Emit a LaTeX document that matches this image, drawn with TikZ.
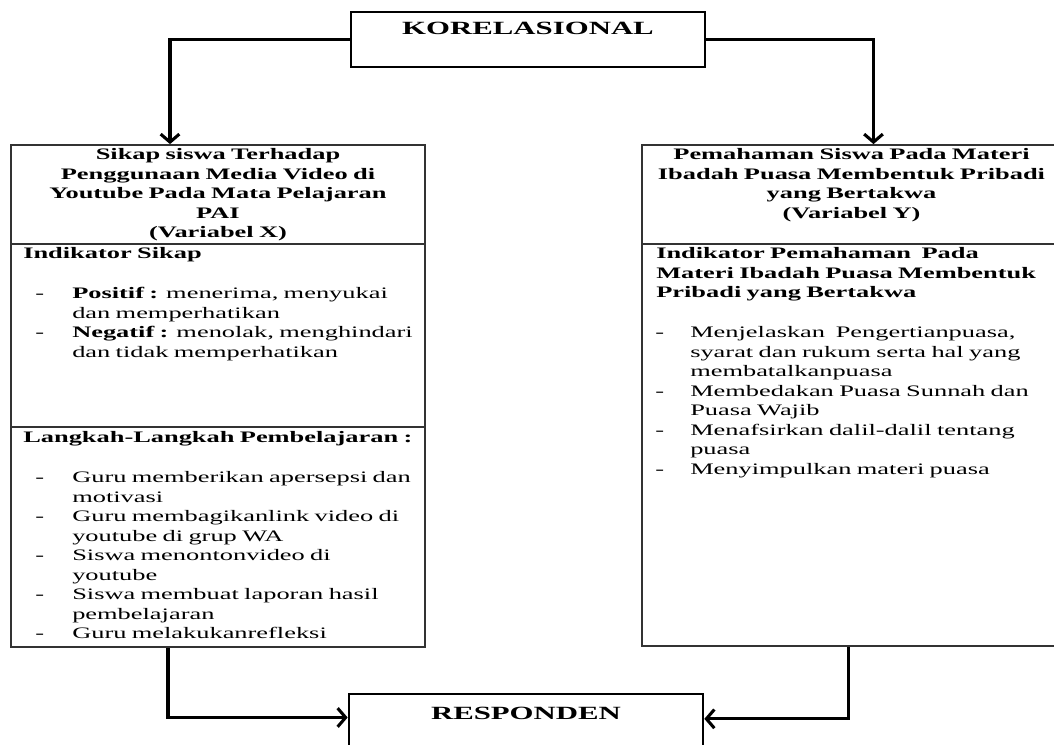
\documentclass[tikz,border=0pt]{standalone}
\usepackage{fontspec}
\setmainfont[FakeStretch=1.65]{Liberation Serif}
\usepackage{xcolor}
\usepackage{tikz}
\usetikzlibrary{positioning, arrows.meta, calc}
\definecolor{garis}{HTML}{333333}
\newcommand{\strip}[1][27.75pt]{\makebox[#1][l]{-}}
\newcommand{\lanjut}[1][27.75pt]{\hspace*{#1}}

\begin{document}
\begin{tikzpicture}[x=0.75pt, y=-0.75pt,
 font=\fontsize{12}{14.6}\selectfont,
 kotak/.style={draw=garis, line width=1.3pt, inner sep=0pt},
 judul/.style={draw=black, line width=2pt, inner sep=0pt, minimum width=265.5pt,
   font=\fontsize{14}{16}\selectfont\bfseries},
 teks/.style={inner sep=0pt, anchor=base west, align=left, text width=330pt},
 tebal/.style={font=\fontsize{12}{14.6}\selectfont\bfseries},
 kepala/.style={inner sep=0pt, anchor=base, align=center, text width=310pt, tebal},
 panah/.style={-{Straight Barb[length=6pt,width=14pt]}, line width=2.3pt}]
\useasboundingbox (0,0) rectangle (1054,745);

\node[judul, text height=17.25pt, text depth=24pt] (kor) at (528,39.5) {KORELASIONAL};
\node[judul, text height=18.75pt, text depth=22.5pt] (resp) at (526,721.5) {RESPONDEN};

\node[kotak, minimum width=310.5pt, minimum height=376.5pt] (sikap) at (218,396) {};
\node[kotak, minimum width=314.25pt, minimum height=375.75pt] (paham) at (851.5,395.5) {};
\draw[garis, line width=1.3pt] ([yshift=-75pt]sikap.north west) -- ([yshift=-75pt]sikap.north east);
\draw[garis, line width=1.3pt] ([yshift=-212.25pt]sikap.north west) -- ([yshift=-212.25pt]sikap.north east);
\draw[garis, line width=1.3pt] ([yshift=-75pt]paham.north west) -- ([yshift=-75pt]paham.north east);

% variabel X
\node[kepala] (judX) at (218,160) {Sikap siswa Terhadap\\Penggunaan Media Video di\\Youtube Pada Mata Pelajaran\\PAI\\(Variabel X)};
\node[teks, tebal] (indX) at (23,259) {Indikator Sikap};
\node[teks] (butirX) at (35,299) {\strip\textbf{Positif :} menerima, menyukai\\
  \lanjut dan memperhatikan\\
  \strip\textbf{Negatif :} menolak, menghindari\\
  \lanjut dan tidak memperhatikan};
\node[teks, tebal] (langkah) at (23,443) {Langkah-Langkah Pembelajaran :};
\node[teks] (butirL) at (35,483) {\strip Guru memberikan apersepsi dan\\
  \lanjut motivasi\\
  \strip Guru membagikanlink video di\\
  \lanjut youtube di grup WA\\
  \strip Siswa menontonvideo di\\
  \lanjut youtube\\
  \strip Siswa membuat laporan hasil\\
  \lanjut pembelajaran\\
  \strip Guru melakukanrefleksi};

% variabel Y
\node[kepala] (judY) at (851.5,160) {Pemahaman Siswa Pada Materi\\Ibadah Puasa Membentuk Pribadi\\yang Bertakwa\\(Variabel Y)};
\node[teks, tebal] (indY) at (656,259) {Indikator Pemahaman\ \ Pada\\Materi Ibadah Puasa Membentuk\\Pribadi yang Bertakwa};
\node[teks] (butirY) at (655,338) {\strip[26.25pt]Menjelaskan\ \ Pengertianpuasa,\\
  \lanjut[26.25pt]syarat dan rukum serta hal yang\\
  \lanjut[26.25pt]membatalkanpuasa\\
  \strip[26.25pt]Membedakan Puasa Sunnah dan\\
  \lanjut[26.25pt]Puasa Wajib\\
  \strip[26.25pt]Menafsirkan dalil-dalil tentang\\
  \lanjut[26.25pt]puasa\\
  \strip[26.25pt]Menyimpulkan materi puasa};

\draw[panah] (kor.west) -| ([xshift=-36pt]sikap.north);
\draw[panah] (kor.east) -| ([xshift=16.5pt]paham.north);
\draw[panah] ([xshift=-37.5pt]sikap.south) |- ([yshift=3pt]resp.west);
\draw[panah] ([xshift=-2.6pt]paham.south) |- ([yshift=2pt]resp.east);

\end{tikzpicture}
\end{document}
